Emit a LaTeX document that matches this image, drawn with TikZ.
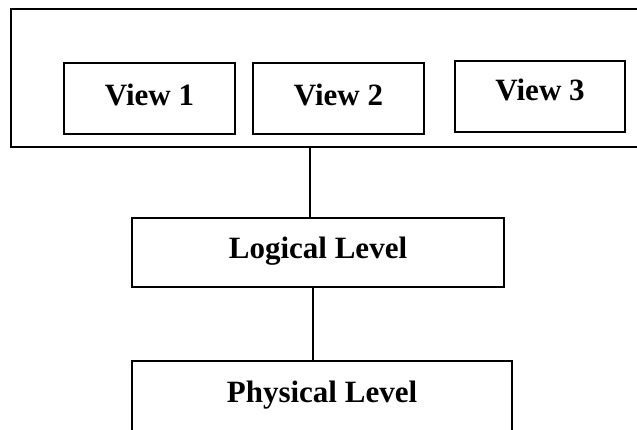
\documentclass[tikz,border=0pt]{standalone}
\usepackage{fontspec}
\setmainfont{Liberation Serif}
\begin{document}
\begin{tikzpicture}[x=1pt,y=-1pt,
  box/.style={draw=black,line width=1.5pt,rectangle,inner sep=0pt,outer sep=0pt},
  lbl/.style={anchor=base,inner sep=0pt,font=\bfseries\fontsize{31}{36}\selectfont},
  link/.style={draw=black,line width=1.5pt}]
\useasboundingbox (0,0) rectangle (637,430);
\clip (0,0) rectangle (637,430);
% boxes
\node[box,minimum width=634pt,minimum height=138pt] (outer) at (328,78) {};
\node[box,minimum width=171pt,minimum height=71pt] (v1) at (149.5,98.5) {};
\node[box,minimum width=171pt,minimum height=71pt] (v2) at (338.5,98.5) {};
\node[box,minimum width=170pt,minimum height=71pt] (v3) at (540,96.5) {};
\node[box,minimum width=372pt,minimum height=69pt] (logical) at (318,252.5) {};
\node[box,minimum width=380pt,minimum height=90pt] (physical) at (322,406) {};
% labels
\node[lbl] (t1) at (149.5,106) {View 1};
\node[lbl] (t2) at (338.5,106) {View 2};
\node[lbl] (t3) at (540,101) {View 3};
\node[lbl] (tl) at (318,259) {Logical Level};
\node[lbl] (tp) at (322,402) {Physical Level};
% connectors
\coordinate (c1) at (310,0);
\coordinate (c2) at (313,0);
\draw[link] (outer.south -| c1) -- (logical.north -| c1);
\draw[link] (logical.south -| c2) -- (physical.north -| c2);
\end{tikzpicture}
\end{document}
